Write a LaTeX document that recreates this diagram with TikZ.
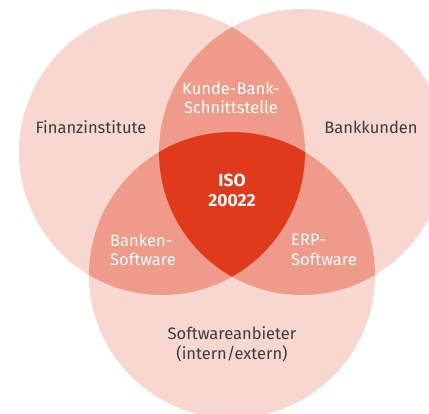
\documentclass[tikz,border=0pt]{standalone}
\usepackage{fontspec}
\setmainfont{Fira Sans}
\definecolor{lightred}{HTML}{F8D7D0}
\definecolor{midred}{HTML}{EE9B89}
\definecolor{darkred}{HTML}{DE3A1B}
\definecolor{textgray}{HTML}{3C3C3C}
\tikzset{
  outer/.style={text=textgray, font=\fontsize{16.5}{20}\selectfont, align=center},
  inner/.style={text=white, font=\fontsize{16.5}{19.5}\selectfont, align=left, inner sep=0pt},
  core/.style={text=white, font=\fontsize{17.5}{20}\selectfont\bfseries, align=center}
}

\begin{document}
\begin{tikzpicture}[x=1pt,y=1pt]
    \clip (0,0) rectangle (429,414);
    \fill[white] (0,0) rectangle (429,414);

    % the three circles
    \fill[lightred] (162,262) circle (143);
    \fill[lightred] (302,262) circle (143);
    \fill[lightred] (232,139) circle (143);

    % pairwise overlaps
    \begin{scope}
      \clip (162,262) circle (143);
      \fill[midred] (302,262) circle (143);
      \fill[midred] (232,139) circle (143);
    \end{scope}
    \begin{scope}
      \clip (302,262) circle (143);
      \fill[midred] (232,139) circle (143);
    \end{scope}

    % all three
    \begin{scope}
      \clip (162,262) circle (143);
      \clip (302,262) circle (143);
      \fill[darkred] (232,139) circle (143);
    \end{scope}

    \node[outer] (fin) at (91,287) {Finanzinstitute};
    \node[outer] (kunden) at (371,287) {Bankkunden};
    \node[outer] (anbieter) at (232,70) {Softwareanbieter\\(intern/extern)};
    \node[inner, align=center] (schnitt) at (231,316) {Kunde-Bank-\\Schnittstelle};
    \node[inner, anchor=west] (banken) at (110,164) {Banken-\\Software};
    \node[inner, anchor=west] (erp) at (291,164) {ERP-\\Software};
    \node[core] (iso) at (232,224) {ISO\\20022};
\end{tikzpicture}
\end{document}
